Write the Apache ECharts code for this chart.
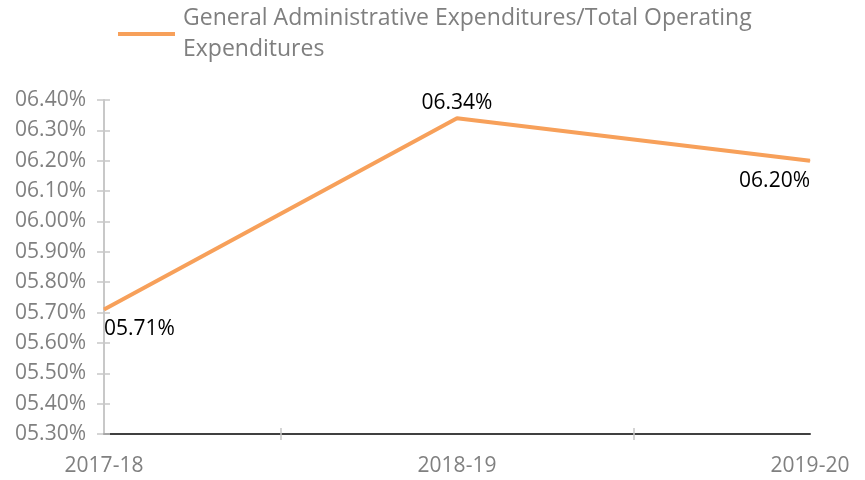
<!DOCTYPE html>
<html>
<head>
<meta charset="utf-8">
<script src="https://cdn.jsdelivr.net/npm/echarts@6/dist/echarts.min.js"></script>
<style>
  html, body { margin: 0; padding: 0; background: #fff; }
  #main { width: 865px; height: 480px; }
</style>
</head>
<body>
<div id="main"></div>
<script>
var years = ['2017-18', '2018-19', '2019-20'];
var ratio = [5.71, 6.34, 6.20];
var seriesName = 'General Administrative Expenditures/Total Operating Expenditures';
var yMin = 5.3, yMax = 6.4, yStep = 0.1;

var chartDom = document.getElementById('main');
var myChart = echarts.init(chartDom);
var font = 'Open Sans';
var lineColor = '#f7a05a';

function pct(v) {
    return '0' + v.toFixed(2) + '%';
}

var labelPos = [
    { position: 'bottom', align: 'left', distance: 9 },
    { position: 'top', align: 'center', distance: 4 },
    { position: 'bottom', align: 'right', distance: 9 }
];

var points = ratio.map(function (v, i) {
    return { value: [i, v], label: labelPos[i] };
});

var yBase = {
    type: 'value', min: yMin, max: yMax, interval: yStep,
    splitLine: { show: false },
    axisLine: { show: false },
    axisTick: { show: true, length: 7, lineStyle: { color: '#c8c8c8', width: 1.5 } }
};

var option = {
    animation: false,
    legend: {
        top: 3,
        left: 118,
        padding: 0,
        itemWidth: 57,
        itemHeight: 4,
        icon: 'rect',
        textStyle: { fontFamily: font, fontSize: 23, color: '#7f7f7f', lineHeight: 31, padding: [0, 0, 0, 3] },
        formatter: function () {
            return 'General Administrative Expenditures/Total Operating\nExpenditures';
        },
        data: [seriesName]
    },
    grid: { left: 104, right: 55, top: 100, bottom: 46 },
    xAxis: [{
        type: 'value', min: 0, max: years.length - 1,
        splitLine: { show: false },
        axisLine: { show: true, lineStyle: { color: '#404040', width: 2 } },
        axisTick: { show: true, length: 6, customValues: [0.5, 1.5], lineStyle: { color: '#c8c8c8', width: 1.5 } },
        axisLabel: {
            customValues: [0, 1, 2],
            margin: 22,
            fontFamily: font, fontSize: 21, color: '#808080',
            formatter: function (v) { return years[Math.round(v)]; }
        }
    }, {
        type: 'value', min: 0, max: years.length - 1, position: 'bottom',
        splitLine: { show: false },
        axisLine: { show: false },
        axisTick: { show: true, inside: true, length: 6, customValues: [0.5, 1.5], lineStyle: { color: '#c8c8c8', width: 1.5 } },
        axisLabel: { show: false }
    }],
    yAxis: [Object.assign({}, yBase, {
        axisLine: { show: true, lineStyle: { color: '#c8c8c8', width: 2 } },
        axisLabel: {
            margin: 18,
            fontFamily: font, fontSize: 21, color: '#808080',
            formatter: pct
        }
    }), Object.assign({}, yBase, {
        position: 'left',
        axisTick: { show: true, inside: true, length: 6, lineStyle: { color: '#c8c8c8', width: 1.5 } },
        axisLabel: { show: false }
    })],
    series: [{
        name: seriesName,
        type: 'line',
        data: points,
        symbol: 'circle',
        symbolSize: 1,
        itemStyle: { color: lineColor },
        lineStyle: { color: lineColor, width: 4 },
        label: {
            show: true,
            fontFamily: font, fontSize: 21, color: '#000',
            formatter: function (p) { return pct(p.value[1]); }
        }
    }]
};

option && myChart.setOption(option);
</script>
</body>
</html>
